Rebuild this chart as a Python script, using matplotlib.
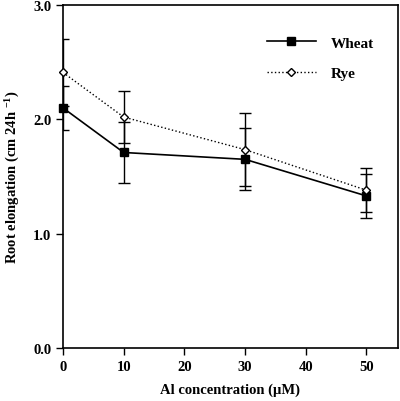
import matplotlib
matplotlib.use('Agg')
import matplotlib.pyplot as plt
from matplotlib.lines import Line2D

plt.rcParams['font.family'] = 'Liberation Serif'
plt.rcParams['font.weight'] = 'bold'
plt.rcParams['mathtext.fontset'] = 'custom'
plt.rcParams['mathtext.rm'] = 'Liberation Serif:bold'
plt.rcParams['mathtext.default'] = 'rm'

# Data
al = [0, 10, 30, 50]
wheat = [2.10, 1.71, 1.65, 1.33]
wheat_err = [0.19, 0.27, 0.27, 0.19]
rye = [2.41, 2.02, 1.735, 1.38]
rye_err = [0.29, 0.23, 0.32, 0.19]

fig = plt.figure(figsize=(4.0, 4.02), dpi=100)
ax = fig.add_axes([63/400, 1 - 349/402, 335/400, 343/402])

w = ax.errorbar(al, wheat, yerr=wheat_err, color='black', lw=1.2, marker='s', ms=6,
                mfc='black', mec='black', capsize=4.5, elinewidth=1.0, capthick=1.0,
                zorder=3)
r = ax.errorbar(al, rye, yerr=rye_err, color='black', lw=1.0, ls=':', marker='D', ms=4.5,
                mfc='white', mec='black', mew=1.0, capsize=4.5, elinewidth=1.0, capthick=1.0,
                zorder=4)
for art in w.lines[:1] + r.lines[:1]:
    art.set_clip_on(False)

ax.set_xlim(0, 55.2)
ax.set_ylim(0, 3.0)
ax.set_xticks([0, 10, 20, 30, 40, 50])
ax.set_yticks([0.0, 1.0, 2.0, 3.0])
ax.set_yticklabels(['0.0', '1.0', '2.0', '3.0'])
ax.tick_params(direction='out', length=5, width=1.0, labelsize=10.5)
for s in ax.spines.values():
    s.set_linewidth(1.2)

ax.set_xlabel('Al concentration (\u00b5M)', fontsize=10.5, fontweight='bold', labelpad=7)
ax.set_ylabel('Root elongation (cm 24h $^{-1}$)', fontsize=10.5, fontweight='bold', labelpad=8)

handles = [Line2D([], [], color='black', lw=1.2, marker='s', ms=6, mfc='black'),
           Line2D([], [], color='black', lw=1.0, ls=':', marker='D', ms=4.5, mfc='white')]
ax.legend(handles, ['Wheat', 'Rye'], loc='upper right', bbox_to_anchor=(0.97, 0.95),
          frameon=False, fontsize=11, handlelength=3.2, labelspacing=1.1, handletextpad=1.0)

fig.savefig('out.png', dpi=100)
